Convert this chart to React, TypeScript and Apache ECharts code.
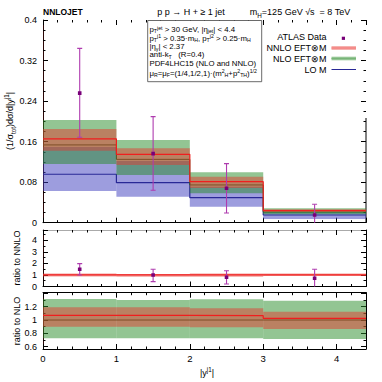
import React, { useEffect, useRef } from "react";
import * as echarts from "echarts";

const FONT = '"Liberation Sans", Arial, Helvetica, sans-serif';

// bins in |y^j1|
const binEdges = [0, 1, 2, 3, 4.4];

// (1/σ_tot) dσ/d|y^j1| — theory predictions (central, scale band low/high)
const nnloCentral = [0.1653, 0.135, 0.081, 0.0237];
const nnloLow = [0.1422, 0.114, 0.0685, 0.0217];
const nnloHigh = [0.185, 0.147, 0.0909, 0.0265];

const nloCentral = [0.1535, 0.125, 0.0745, 0.021];
const nloLow = [0.1159, 0.0942, 0.058, 0.0166];
const nloHigh = [0.2028, 0.1634, 0.0995, 0.0284];

const loCentral = [0.0956, 0.079, 0.0494, 0.0152];
const loLow = [0.0626, 0.0514, 0.0316, 0.0073];
const loHigh = [0.1495, 0.122, 0.071, 0.0205];

// ATLAS data
const dataX = [0.5, 1.5, 2.5, 3.7];
const dataY = [0.2556, 0.1363, 0.068, 0.0152];
const dataLow = [0.1687, 0.064, 0.0192, -0.003];
const dataHigh = [0.344, 0.2094, 0.1165, 0.0363];

// ratio to NNLO panel
const rNnloCentral = [1, 1, 1, 1];
const rNnloLow = [0.86, 0.84, 0.85, 0.92];
const rNnloHigh = [1.12, 1.09, 1.12, 1.12];
const rDataY = [1.5, 1.0, 0.8, 0.71];
const rDataLow = [1.0, 0.42, 0.22, -0.2];
const rDataHigh = [1.98, 1.5, 1.37, 1.5];

// ratio to NLO panel
const rNloCentral = [1, 1, 1, 1];
const rNloGreenLow = [0.725, 0.725, 0.725, 0.715];
const rNloGreenHigh = [1.315, 1.3, 1.31, 1.29];
const rNloRedCentral = [1.07, 1.07, 1.065, 1.025];
const rNloRedLow = [0.9, 0.9, 0.89, 0.865];
const rNloRedHigh = [1.19, 1.19, 1.175, 1.125];

// colours
const GREEN_BAND = "rgba(40,140,40,0.5)";
const RED_BAND = "rgba(230,55,45,0.48)";
const BLUE_BAND = "rgba(60,60,190,0.5)";
const RED_LINE = "rgb(240,30,30)";
const GREEN_LINE = "rgb(30,100,30)";
const BLUE_LINE = "rgb(40,40,150)";
const ERR_COLOR = "rgb(175,60,175)";
const PT_COLOR = "rgb(120,0,120)";

const richFor = (small: number, lh: number) => ({
  sup: { fontSize: small, lineHeight: lh, verticalAlign: "top", fontFamily: FONT, fill: "#000" },
  sub: { fontSize: small, lineHeight: lh, verticalAlign: "bottom", fontFamily: FONT, fill: "#000" },
});

const tickLine = { color: "#000", width: 1 };

function xAx(grid: number, pos: string, showLabel: boolean, lineShow: boolean, lineColor = "#000") {
  return {
    type: "value",
    gridIndex: grid,
    position: pos,
    min: 0,
    max: 4.4,
    interval: 1,
    axisLine: { show: lineShow, onZero: false, lineStyle: { color: lineColor, width: 1 } },
    axisTick: { show: true, inside: true, length: 5, lineStyle: tickLine },
    minorTick: { show: true, splitNumber: 5, length: 2.5, lineStyle: tickLine },
    axisLabel: {
      show: showLabel,
      fontSize: 9.5,
      fontFamily: FONT,
      color: "#000",
      margin: 4,
      showMaxLabel: false,
      formatter: (v: number) => (Math.abs(v - Math.round(v)) < 1e-6 ? String(Math.round(v)) : ""),
    },
    splitLine: { show: false },
  };
}

function yAx(
  grid: number,
  pos: string,
  min: number,
  max: number,
  interval: number | undefined,
  minorSplit: number,
  showLabel: boolean,
  lineShow: boolean,
  fmt: (v: number) => string,
  lineColor = "#000"
) {
  const a: any = {
    type: "value",
    gridIndex: grid,
    position: pos,
    min,
    max,
    axisLine: { show: lineShow, onZero: false, lineStyle: { color: lineColor, width: 1 } },
    axisTick: { show: true, inside: true, length: 5, lineStyle: tickLine },
    minorTick: { show: true, splitNumber: minorSplit, length: 2.5, lineStyle: tickLine },
    axisLabel: {
      show: showLabel,
      fontSize: 9,
      fontFamily: FONT,
      color: "#000",
      margin: 6,
      showMinLabel: true,
      showMaxLabel: true,
      formatter: fmt,
    },
    splitLine: { show: false },
  };
  if (interval !== undefined) a.interval = interval;
  return a;
}

function band(xi: number, yi: number, lo: number[], hi: number[], color: string, z: number) {
  return {
    type: "custom",
    xAxisIndex: xi,
    yAxisIndex: yi,
    z,
    silent: true,
    clip: true,
    data: lo.map((l, i) => [binEdges[i], binEdges[i + 1], l, hi[i]]),
    encode: { x: [0, 1], y: [2, 3] },
    renderItem: (_p: any, api: any) => {
      const p0 = api.coord([api.value(0), api.value(3)]);
      const p1 = api.coord([api.value(1), api.value(2)]);
      return {
        type: "rect",
        shape: { x: p0[0], y: p0[1], width: p1[0] - p0[0], height: p1[1] - p0[1] },
        style: { fill: color },
      };
    },
  };
}

function stepLine(xi: number, yi: number, vals: number[], color: string, width: number, z: number) {
  const pts = vals.map((v, i) => [binEdges[i], v]);
  pts.push([binEdges[binEdges.length - 1], vals[vals.length - 1]]);
  return {
    type: "line",
    xAxisIndex: xi,
    yAxisIndex: yi,
    z,
    silent: true,
    step: "end",
    symbol: "none",
    data: pts,
    lineStyle: { color, width },
  };
}

function errBars(xi: number, yi: number, ys: number[], lo: number[], hi: number[], z: number) {
  return {
    type: "custom",
    xAxisIndex: xi,
    yAxisIndex: yi,
    z,
    silent: true,
    clip: true,
    data: dataX.map((x, i) => [x, ys[i], lo[i], hi[i]]),
    encode: { x: 0, y: [1, 2, 3] },
    renderItem: (_p: any, api: any) => {
      const pc = api.coord([api.value(0), api.value(1)]);
      const pl = api.coord([api.value(0), api.value(2)]);
      const ph = api.coord([api.value(0), api.value(3)]);
      const cap = 2.5;
      const st = { stroke: ERR_COLOR, lineWidth: 1.1 };
      return {
        type: "group",
        children: [
          { type: "line", shape: { x1: pc[0], y1: pl[1], x2: pc[0], y2: ph[1] }, style: st },
          { type: "line", shape: { x1: pc[0] - cap, y1: ph[1], x2: pc[0] + cap, y2: ph[1] }, style: st },
          { type: "line", shape: { x1: pc[0] - cap, y1: pl[1], x2: pc[0] + cap, y2: pl[1] }, style: st },
          { type: "rect", shape: { x: pc[0] - 1.8, y: pc[1] - 1.8, width: 3.6, height: 3.6 }, style: { fill: PT_COLOR } },
        ],
      };
    },
  };
}

const fmtMain = (v: number) => String(Number(v.toFixed(2)));
const fmtNnlo = (v: number) => (v > 4.5 ? "" : String(Math.round(v)));
const fmtNlo = (v: number) => (v < 0.59 || v > 1.3 ? "" : String(Number(v.toFixed(2))));

function txt(x: number, y: number, text: string, fs: number, align = "left", extra: any = {}) {
  const small = extra.small ?? Math.round(fs * 0.7 * 10) / 10;
  const lh = extra.lh ?? fs + 4;
  const slh = extra.slh ?? small - 1;
  const { small: _s, lh: _l, slh: _sl, styleExtra, ...rest } = extra;
  return {
    type: "text",
    x,
    y,
    silent: true,
    ...rest,
    style: {
      text,
      fontSize: fs,
      fontFamily: FONT,
      fill: "#000",
      align,
      verticalAlign: "middle",
      lineHeight: lh,
      rich: richFor(small, slh),
      ...(styleExtra || {}),
    },
  };
}

const infoLines = [
  "p{sub|T}{sup|jet} > 30 GeV, |η{sub|jet}| < 4.4",
  "p{sub|T}{sup|j1} > 0.35·m{sub|H}, p{sub|T}{sup|j2} > 0.25·m{sub|H}",
  "|η{sub|γ}| < 2.37",
  "anti-k{sub|T}   (R=0.4)",
  "PDF4LHC15 (NLO and NNLO)",
  "μ{sub|R}=μ{sub|F}=(1/4,1/2,1)·(m{sup|2}{sub|H}+p{sup|2}{sub|TH}){sup|1/2}",
];
const infoY = [29.5, 38, 46.8, 54.8, 63, 73];

const legendLabels = ["ATLAS Data", "NNLO EFT⊗M", "NLO EFT⊗M", "LO M"];
const legendY = [36.5, 48, 58.5, 69.5];

export default function App() {
  const ref = useRef<HTMLDivElement>(null);
  useEffect(() => {
    const chart = echarts.init(ref.current!, undefined, { renderer: "svg" });
    const L0 = 331.5;
    const L1 = 356;
    const infoOpts = { small: 5.2, lh: 8.5, slh: 4 };
    const graphic: any[] = [
      txt(43, 11.5, "NNLOJET", 8.5, "left", { styleExtra: { fontWeight: "bold" } }),
      txt(191, 11.5, "p p → H + ≥ 1 jet", 9, "center"),
      txt(300, 11.5, "m{sub|H}=125 GeV √s  = 8 TeV", 9, "center"),
      txt(9.5, 121, "(1/σ{sub|tot})dσ/d|y{sup|j1}|", 9, "center", { rotation: Math.PI / 2 }),
      txt(17, 258, "ratio to NNLO", 9, "center", { rotation: Math.PI / 2 }),
      txt(17, 321, "ratio to NLO", 9, "center", { rotation: Math.PI / 2 }),
      txt(207, 373, "|y{sup|j1}|", 9, "center"),
      {
        type: "rect",
        silent: true,
        shape: { x: 147.7, y: 20.5, width: 114, height: 61.2 },
        style: { fill: "#fff", stroke: "#444", lineWidth: 0.8 },
        z: 50,
      },
      ...infoLines.map((t, i) => ({ ...txt(149.5, infoY[i], t, 7.8, "left", infoOpts), z: 51 })),
      ...legendLabels.map((t, i) => txt(326.5, legendY[i], t, 9, "right")),
      {
        type: "rect",
        silent: true,
        shape: { x: 341.8, y: legendY[0] + 0.2, width: 3.2, height: 3.2 },
        style: { fill: PT_COLOR },
      },
      { type: "rect", silent: true, shape: { x: L0, y: legendY[1] - 1.8, width: L1 - L0, height: 3.6 }, style: { fill: RED_BAND } },
      { type: "line", silent: true, shape: { x1: L0, y1: legendY[1], x2: L1, y2: legendY[1] }, style: { stroke: "rgb(245,120,120)", lineWidth: 1 } },
      { type: "rect", silent: true, shape: { x: L0, y: legendY[2] - 1.8, width: L1 - L0, height: 3.6 }, style: { fill: GREEN_BAND } },
      { type: "line", silent: true, shape: { x1: L0, y1: legendY[2], x2: L1, y2: legendY[2] }, style: { stroke: "rgb(120,180,120)", lineWidth: 1 } },
      { type: "line", silent: true, shape: { x1: L0, y1: legendY[3], x2: L1, y2: legendY[3] }, style: { stroke: BLUE_LINE, lineWidth: 1 } },
      // partial right border of main panel
      { type: "line", silent: true, shape: { x1: 366, y1: 118, x2: 366, y2: 222.7 }, style: { stroke: "#000", lineWidth: 1 } },
    ];

    const option: any = {
      animation: false,
      backgroundColor: "#fff",
      grid: [
        { left: 43, top: 20, width: 323, height: 202.7, outerBoundsMode: "none" },
        { left: 43, top: 230, width: 323, height: 56.5, outerBoundsMode: "none" },
        { left: 43, top: 292.7, width: 323, height: 56.3, outerBoundsMode: "none" },
      ],
      xAxis: [
        xAx(0, "bottom", false, true),
        xAx(0, "top", false, false),
        xAx(1, "bottom", false, true),
        xAx(1, "top", false, true, "#aaa"),
        xAx(2, "bottom", true, true),
        xAx(2, "top", false, true),
      ],
      yAxis: [
        yAx(0, "left", 0, 0.4, 0.08, 4, true, true, fmtMain, "#2a0505"),
        yAx(0, "right", 0, 0.4, 0.08, 4, false, false, fmtMain),
        yAx(1, "left", 0, 4.9, 1, 2, true, true, fmtNnlo, "#2a0505"),
        yAx(1, "right", 0, 4.9, 1, 2, false, true, fmtNnlo),
        yAx(2, "left", 0.565, 1.41, undefined, 2, true, true, fmtNlo, "#2a0505"),
        yAx(2, "right", 0.565, 1.41, undefined, 2, false, true, fmtNlo),
      ],
      series: [
        band(0, 0, loLow, loHigh, BLUE_BAND, 1),
        stepLine(0, 0, loCentral, BLUE_LINE, 1.2, 2),
        band(0, 0, nloLow, nloHigh, GREEN_BAND, 3),
        stepLine(0, 0, nloCentral, GREEN_LINE, 1, 4),
        band(0, 0, nnloLow, nnloHigh, RED_BAND, 5),
        stepLine(0, 0, nnloCentral, RED_LINE, 1.2, 6),
        errBars(0, 0, dataY, dataLow, dataHigh, 10),

        band(2, 2, rNnloLow, rNnloHigh, RED_BAND, 5),
        stepLine(2, 2, rNnloCentral, RED_LINE, 1.2, 6),
        errBars(2, 2, rDataY, rDataLow, rDataHigh, 10),

        band(4, 4, rNloGreenLow, rNloGreenHigh, GREEN_BAND, 3),
        stepLine(4, 4, rNloCentral, GREEN_LINE, 1, 4),
        band(4, 4, rNloRedLow, rNloRedHigh, RED_BAND, 5),
        stepLine(4, 4, rNloRedCentral, RED_LINE, 1.2, 6),
      ],
      graphic,
    };
    chart.setOption(option);
    return () => chart.dispose();
  }, []);
  return <div ref={ref} style={{ position: "fixed", left: 0, top: 0, width: 382, height: 382 }} />;
}
